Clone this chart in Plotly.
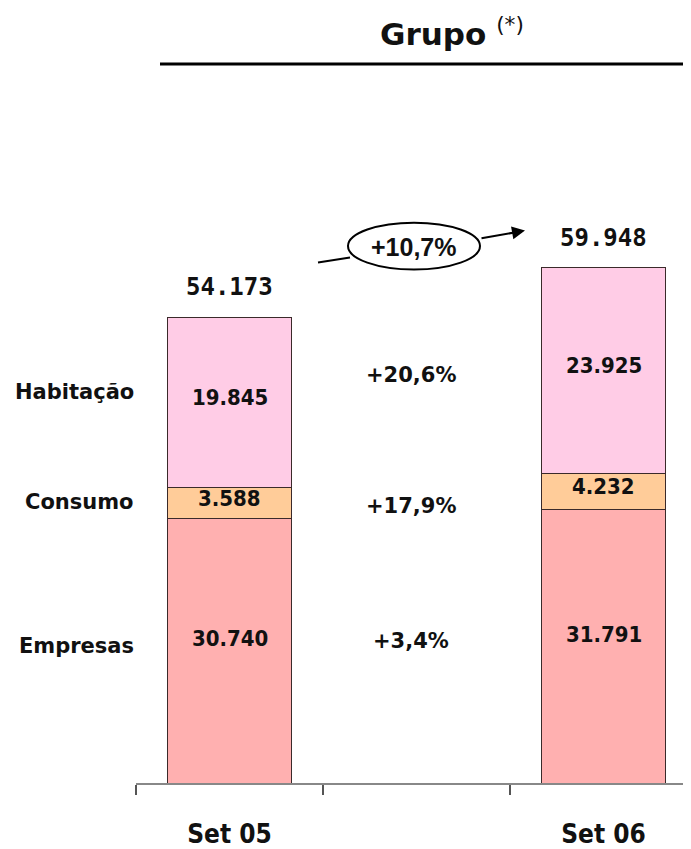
import plotly.graph_objects as go

# ---------------- data ----------------
categories = ["Set 05", " ", "Set 06"]
bar_cats = ["Set 05", "Set 06"]
empresas = [30740, 31791]
consumo = [3588, 4232]
habitacao = [19845, 23925]
totals = [54173, 59948]
series_names = ["Empresas", "Consumo", "Habitação"]
growth_labels = ["+3,4%", "+17,9%", "+20,6%"]
total_growth = "+10,7%"
value_labels = {
    "Empresas": ["30.740", "31.791"],
    "Consumo": ["3.588", "4.232"],
    "Habitação": ["19.845", "23.925"],
}
total_labels = ["54.173", "59.948"]

# ---------------- geometry ----------------
OFF = 8                      # default page body margin
W, H = 683, 841              # figure size (placed at OFF, OFF on the page)
AXIS_Y = 785                 # screen y of the baseline
PLOT_L = 136                 # screen x of plot left edge
PLOT_T = 100                 # screen y of plot top edge
L = PLOT_L - OFF
T = PLOT_T - OFF
R = 0
B = H - (AXIS_Y - OFF)
PW, PH = W - L - R, H - T - B
CAT_PX = 187.0
PX_PER_UNIT = 467.0 / 54173.0
XMAX = -0.5 + PW / CAT_PX
YMAX = PH / PX_PER_UNIT


def px_x(px):
    return -0.5 + (px - PLOT_L) / CAT_PX


def px_y(py):
    return (AXIS_Y - py) / PX_PER_UNIT


def paper_x(px):
    return (px - PLOT_L) / PW


def paper_y(py):
    return (AXIS_Y - py) / PH


colors = {"Empresas": "#FFB0B0", "Consumo": "#FFCC99", "Habitação": "#FFCCE6"}
series_vals = {"Empresas": empresas, "Consumo": consumo, "Habitação": habitacao}

fig = go.Figure()
for name in series_names:
    fig.add_trace(go.Bar(
        x=bar_cats, y=series_vals[name], name=name,
        marker=dict(color=colors[name], line=dict(color="#3a2a2a", width=1)),
        width=0.668, hoverinfo="skip", showlegend=False,
    ))

annotations = []
bold_num = dict(family="DejaVu Sans Condensed, DejaVu Sans", size=22, color="#111111")
shift = {"Empresas": 12, "Consumo": 5, "Habitação": 5}
for i, cat in enumerate(bar_cats):
    base = 0
    for name in series_names:
        v = series_vals[name][i]
        annotations.append(dict(
            x=cat, y=base + v / 2, xref="x", yref="y",
            xanchor="center", yanchor="middle",
            text="<b>%s</b>" % value_labels[name][i], showarrow=False,
            font=bold_num, yshift=shift[name]))
        base += v
    annotations.append(dict(
        x=cat, y=totals[i], xref="x", yref="y",
        xanchor="center", yanchor="bottom",
        text="<b>%s</b>" % total_labels[i], showarrow=False,
        font=dict(family="DejaVu Sans Mono", size=24, color="#111111"),
        yshift=14))

# left side series labels (aligned with Set 05 segments)
base = 0
lab_shift = {"Empresas": 5, "Consumo": 1, "Habitação": 11}
for name in series_names:
    v = series_vals[name][0]
    annotations.append(dict(
        x=0, xref="paper", y=base + v / 2, yref="y",
        xanchor="right", yanchor="middle",
        text="<b>%s</b>" % name, showarrow=False,
        font=dict(family="DejaVu Sans", size=21, color="#111111"),
        yshift=lab_shift[name]))
    base += v

# growth labels in middle column
growth_py = [643, 507, 376]
for g, py in zip(growth_labels, growth_py):
    annotations.append(dict(
        x=px_x(411), y=px_y(py), xref="x", yref="y",
        xanchor="center", yanchor="middle",
        text="<b>%s</b>" % g, showarrow=False,
        font=dict(family="DejaVu Sans", size=21, color="#111111")))

# total growth bubble
annotations.append(dict(
    x=px_x(414), y=px_y(247), xref="x", yref="y",
    xanchor="center", yanchor="middle",
    text="<b>%s</b>" % total_growth, showarrow=False,
    font=dict(family="Liberation Sans, Arial", size=25, color="#111111")))
annotations.append(dict(
    x=px_x(525), y=px_y(231), xref="x", yref="y",
    ax=px_x(480), ay=px_y(239), axref="x", ayref="y",
    text="", showarrow=True, arrowhead=2, arrowsize=1.3, arrowwidth=2,
    arrowcolor="#000000"))

# title
annotations.append(dict(
    x=paper_x(452), y=paper_y(32), xref="paper", yref="paper",
    xanchor="center", yanchor="middle",
    text="<b>Grupo</b> <sup>(*)</sup>", showarrow=False,
    font=dict(family="DejaVu Sans", size=31, color="#111111")))

shapes = [
    dict(type="line", xref="paper", yref="paper",
         x0=paper_x(160), x1=1.0, y0=paper_y(64), y1=paper_y(64),
         line=dict(color="#000000", width=3)),
    dict(type="line", xref="x", yref="y",
         x0=px_x(318), y0=px_y(263), x1=px_x(350), y1=px_y(258),
         line=dict(color="#000000", width=2)),
    dict(type="circle", xref="x", yref="y",
         x0=px_x(348), x1=px_x(480), y0=px_y(270), y1=px_y(223),
         line=dict(color="#000000", width=2), fillcolor="white"),
]

fig.update_layout(
    width=W, height=H,
    margin=dict(l=L, r=R, t=T, b=B, pad=0),
    paper_bgcolor="white", plot_bgcolor="white",
    barmode="stack", showlegend=False,
    annotations=annotations, shapes=shapes,
    xaxis=dict(
        type="category", categoryorder="array", categoryarray=categories,
        range=[-0.5, XMAX], showgrid=False, zeroline=False,
        showline=True, linecolor="#888888", linewidth=2,
        ticks="outside", tickson="boundaries", ticklen=10,
        tickcolor="#555555", tickwidth=1.5,
        tickfont=dict(family="DejaVu Sans Condensed, DejaVu Sans", size=26, color="#111111"),
        ticklabelstandoff=27,
        tickvals=categories, ticktext=["<b>Set 05</b>", " ", "<b>Set 06</b>"],
    ),
    yaxis=dict(range=[0, YMAX], showgrid=False, zeroline=False,
               showline=False, showticklabels=False, ticks=""),
)

fig.write_html("out.html")
